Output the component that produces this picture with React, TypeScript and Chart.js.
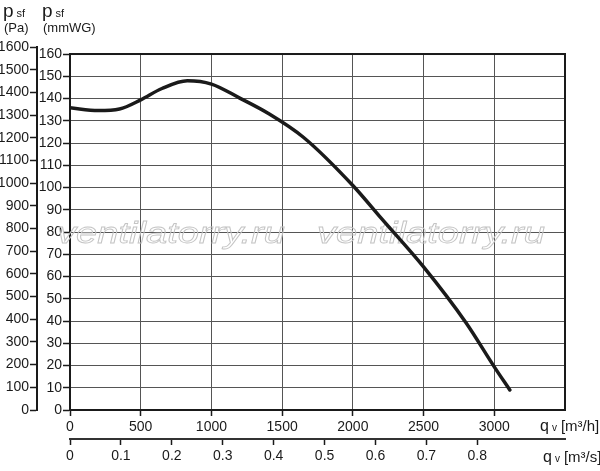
import { useEffect, useRef } from "react";
import { Chart, registerables } from "chart.js";

Chart.register(...registerables);

// fan curve: airflow [m3/h] vs static pressure [mmWG]
const flowM3h = [0, 200, 350, 500, 650, 830, 1000, 1200, 1400, 1650, 2000, 2200, 2500, 2800, 3000, 3110];
const pressureMmWG = [135.8, 134.6, 135.3, 139.4, 144.5, 148.0, 146.5, 140.2, 133.4, 122.6, 100.9, 86.2, 64.3, 39.2, 19.4, 9.0];

// axis ticks
const paTicks = [0, 100, 200, 300, 400, 500, 600, 700, 800, 900, 1000, 1100, 1200, 1300, 1400, 1500, 1600];
const mmTicks = [0, 10, 20, 30, 40, 50, 60, 70, 80, 90, 100, 110, 120, 130, 140, 150, 160];
const m3hTicks = [0, 500, 1000, 1500, 2000, 2500, 3000];
const m3sTicks = [0, 0.1, 0.2, 0.3, 0.4, 0.5, 0.6, 0.7, 0.8];

const X_MAX = 3500;
const PA_PER_MMWG = 9.80665;
const WATERMARK = "ventilatorry.ru";

const FAMILY = "'Liberation Sans', Arial, sans-serif";
const tickFont = { family: FAMILY, size: 14 };
const INK = "#1a1a1a";

function drawSymbol(ctx: CanvasRenderingContext2D, x: number, y: number, main: string, sub: string, size: number) {
  ctx.font = `${size}px ${FAMILY}`;
  ctx.fillText(main, x, y);
  const w = ctx.measureText(main).width;
  ctx.font = `${Math.round(size * 0.6)}px ${FAMILY}`;
  ctx.fillText(sub, x + w + 3, y);
  return x + w + 3 + ctx.measureText(sub).width;
}

const decorPlugin = {
  id: "decor",
  beforeDatasetsDraw(chart: any) {
    const { ctx, chartArea: a, scales } = chart;
    const top = scales.y.getPixelForValue(mmTicks[mmTicks.length - 1]);
    ctx.save();
    // plot frame ends at 160 mmWG, the Pa axis goes a bit higher
    ctx.fillStyle = "#fff";
    ctx.fillRect(a.left - 2, a.top - 2, a.right - a.left + 4, top - a.top + 1);
    ctx.strokeStyle = INK;
    ctx.lineWidth = 2;
    ctx.strokeRect(a.left, top, a.right - a.left, a.bottom - top);

    // watermark
    ctx.font = `italic 29px ${FAMILY}`;
    ctx.strokeStyle = "#c4c4c4";
    ctx.lineWidth = 0.8;
    const w = ctx.measureText(WATERMARK).width;
    for (const x0 of [57, 317]) {
      ctx.save();
      ctx.translate(x0, 243);
      ctx.scale(228 / w, 1);
      ctx.strokeText(WATERMARK, 0, 0);
      ctx.restore();
    }
    ctx.restore();
  },
  afterDraw(chart: any) {
    const { ctx } = chart;
    ctx.save();
    ctx.fillStyle = INK;
    ctx.textBaseline = "alphabetic";
    drawSymbol(ctx, 3, 17, "p", "sf", 19);
    drawSymbol(ctx, 42, 17, "p", "sf", 19);
    ctx.font = `13px ${FAMILY}`;
    ctx.fillText("(Pa)", 4, 32);
    ctx.fillText("(mmWG)", 43, 32);

    let x = drawSymbol(ctx, 540, 431, "q", "v", 16);
    ctx.font = `15px ${FAMILY}`;
    ctx.fillText("[m³/h]", x + 4, 431);
    x = drawSymbol(ctx, 543, 462, "q", "v", 16);
    ctx.font = `15px ${FAMILY}`;
    ctx.fillText("[m³/s]", x + 4, 462);
    ctx.restore();
  },
};

const App: React.FC = () => {
  const chartRef = useRef<HTMLCanvasElement | null>(null);

  useEffect(() => {
    if (!chartRef.current) return;
    const ctx = chartRef.current.getContext("2d");
    if (!ctx) return;

    const axisTicks = { font: tickFont, color: INK, autoSkip: false, maxRotation: 0, callback: (v: any) => String(v) };

    const chart = new Chart(ctx, {
      type: "scatter",
      data: {
        datasets: [
          {
            data: flowM3h.map((q, i) => ({ x: q, y: pressureMmWG[i] })),
            showLine: true,
            borderColor: INK,
            borderWidth: 3.5,
            borderCapStyle: "round",
            borderJoinStyle: "round",
            pointRadius: 0,
            cubicInterpolationMode: "monotone",
            xAxisID: "x",
            yAxisID: "y",
          },
        ],
      },
      options: {
        responsive: false,
        animation: false,
        layout: { padding: { top: 47, right: 35, left: 0, bottom: 0 } },
        plugins: { legend: { display: false }, tooltip: { enabled: false } },
        scales: {
          x: {
            type: "linear",
            position: "bottom",
            weight: 0,
            min: 0,
            max: X_MAX,
            afterBuildTicks: (s: any) => { s.ticks = m3hTicks.map((value) => ({ value })); },
            afterFit: (s: any) => { s.height = 29; },
            ticks: { ...axisTicks, padding: 3 },
            grid: { color: "#555", lineWidth: 1, tickLength: 6, tickColor: INK, tickWidth: 1.5 },
            border: { color: INK, width: 2 },
          },
          xs: {
            type: "linear",
            position: "bottom",
            weight: 1,
            min: 0,
            max: X_MAX / 3600,
            afterBuildTicks: (s: any) => { s.ticks = m3sTicks.map((value) => ({ value })); },
            afterFit: (s: any) => { s.height = 32; },
            ticks: { ...axisTicks, padding: 3 },
            grid: { drawOnChartArea: false, tickLength: 6, tickColor: INK, tickWidth: 1.5 },
            border: { color: "#333", width: 2 },
          },
          y: {
            type: "linear",
            position: "left",
            weight: 0,
            min: 0,
            max: paTicks[paTicks.length - 1] / PA_PER_MMWG,
            afterBuildTicks: (s: any) => { s.ticks = mmTicks.map((value) => ({ value })); },
            afterFit: (s: any) => { s.width = 33; },
            ticks: { ...axisTicks, padding: 1 },
            grid: { color: "#555", lineWidth: 1, tickLength: 7, tickColor: INK, tickWidth: 1.5 },
            border: { color: INK, width: 2 },
          },
          pa: {
            type: "linear",
            position: "left",
            weight: 1,
            min: 0,
            max: paTicks[paTicks.length - 1],
            afterBuildTicks: (s: any) => { s.ticks = paTicks.map((value) => ({ value })); },
            afterFit: (s: any) => { s.width = 37; },
            ticks: { ...axisTicks, padding: 1 },
            grid: { drawOnChartArea: false, tickLength: 7, tickColor: INK, tickWidth: 1.5 },
            border: { color: INK, width: 2 },
          },
        },
      },
      plugins: [decorPlugin],
    } as any);

    return () => {
      chart.destroy();
    };
  }, []);

  return (
    <div style={{ position: "absolute", left: 0, top: 0, width: "600px", height: "471px", background: "#fff" }}>
      <canvas ref={chartRef} width={600} height={471}></canvas>
    </div>
  );
};

export default App;
